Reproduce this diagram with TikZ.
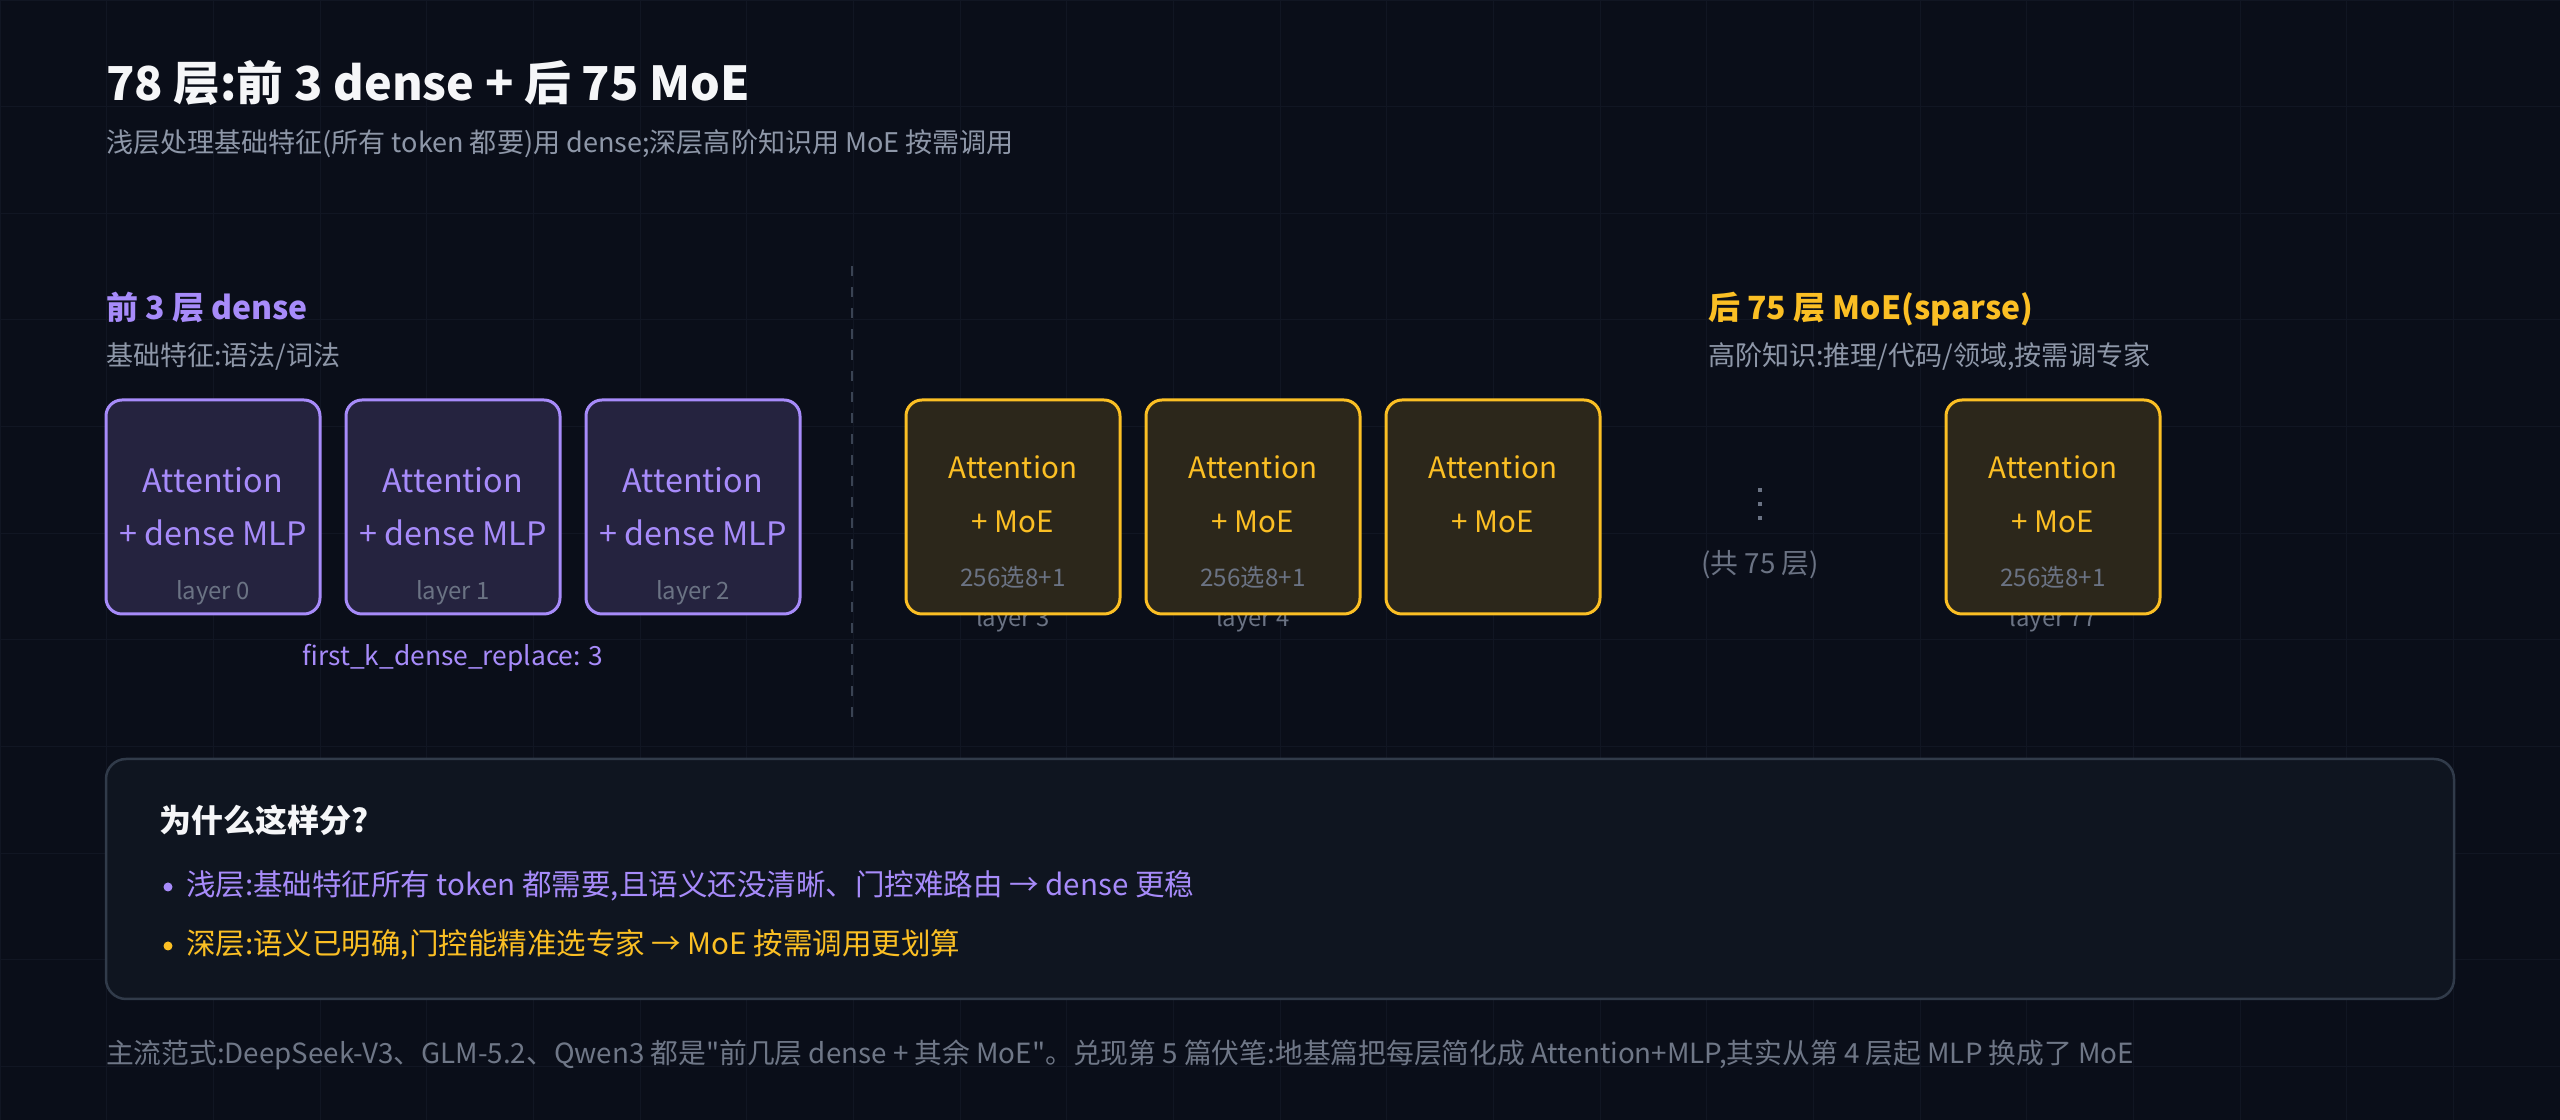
\documentclass[tikz,border=0pt]{standalone}
\usepackage{fontspec}
\setmainfont{Noto Sans CJK SC}[Ligatures=TeXOff]
\definecolor{bg}{HTML}{0A0E19}
\definecolor{gridc}{HTML}{111623}
\definecolor{titlec}{HTML}{F5F6F8}
\definecolor{subc}{HTML}{8E97A8}
\definecolor{footc}{HTML}{6F7787}
\definecolor{labc}{HTML}{6B7384}
\definecolor{purp}{HTML}{A78BFA}
\definecolor{amber}{HTML}{FBBF24}
\definecolor{panelfill}{HTML}{0F1520}
\definecolor{panelline}{HTML}{313B4A}
\definecolor{dashc}{HTML}{3A4353}
\tikzset{
  txt/.style={anchor=base west, inner sep=0pt, outer sep=0pt},
  ctxt/.style={anchor=base, inner sep=0pt, outer sep=0pt},
  fTitle/.style={font=\fontsize{13.3pt}{15pt}\selectfont\bfseries},
  fHead/.style={font=\fontsize{9.1pt}{11pt}\selectfont\bfseries},
  fSub/.style={font=\fontsize{7.7pt}{9pt}\selectfont},
  fFoot/.style={font=\fontsize{7.9pt}{9pt}\selectfont},
  fBox/.style={font=\fontsize{9.2pt}{11pt}\selectfont},
  fBoxY/.style={font=\fontsize{8.4pt}{10pt}\selectfont},
  fSmall/.style={font=\fontsize{6.8pt}{8pt}\selectfont},
  fNote/.style={font=\fontsize{6.9pt}{8pt}\selectfont},
  fBul/.style={font=\fontsize{8.4pt}{10pt}\selectfont},
  pbox/.style={draw=purp, line width=0.3mm, fill=purp!17!bg, rounded corners=1.6mm,
    minimum width=21.4mm, minimum height=21.4mm, inner sep=0pt},
  ybox/.style={draw=amber, line width=0.3mm, fill=amber!14!bg, rounded corners=1.6mm,
    minimum width=21.4mm, minimum height=21.4mm, inner sep=0pt},
}
\begin{document}
\begin{tikzpicture}[x=0.1mm, y=-0.1mm]
\useasboundingbox (0,0) rectangle (2560,1120);
\fill[bg] (0,0) rectangle (2560,1120);
\draw[gridc, line width=0.1mm, step=10.6667mm] (0,0) grid (2560,1120);

% title
\node[txt, fTitle, text=titlec] (title) at (106,101) {78 层:前 3 dense + 后 75 MoE};
\node[txt, fSub, text=subc] (subtitle) at (106,153) {浅层处理基础特征(所有 token 都要)用 dense;深层高阶知识用 MoE 按需调用};

% left header
\node[txt, fHead, text=purp] (h1) at (106,320) {前 3 层 dense};
\node[txt, fSub, text=subc] (s1) at (106,366) {基础特征:语法/词法};

% right header
\node[txt, fHead, text=amber] (h2) at (1708,320) {后 75 层 MoE(sparse)};
\node[txt, fSub, text=subc] (s2) at (1708,366) {高阶知识:推理/代码/领域,按需调专家};

% dense boxes
\foreach \i/\x in {0/213,1/453,2/693}{
  \node[pbox] (L\i) at (\x,507) {};
  \node[ctxt, fBox, text=purp] (La\i) at (\x,493) {Attention};
  \node[ctxt, fBox, text=purp] (Lb\i) at (\x,546) {+ dense MLP};
  \node[ctxt, fSmall, text=labc] (Lc\i) at (\x,600) {layer \i};
}
\node[ctxt, font=\fontsize{7.5pt}{9pt}\selectfont, text=purp] (fk) at (453,666) {first\_k\_dense\_replace: 3};

% divider
\coordinate (dtop) at (852,266);
\coordinate (dbot) at (852,718);
\draw[dashc, line width=0.2mm, dash pattern=on 1mm off 1.1mm] (dtop) -- (dbot);

% moe boxes
\foreach \n/\x in {3/1013,4/1253,77/2053}{
  \node[ctxt, fSmall, text=labc] (Ln\n) at (\x,627) {layer \n};
}
\foreach \n/\x in {3/1013,4/1253,5/1493,77/2053}{
  \node[ybox] (M\n) at (\x,507) {};
  \node[ctxt, fBoxY, text=amber] (Ma\n) at (\x,479) {Attention};
  \node[ctxt, fBoxY, text=amber] (Mb\n) at (\x,533) {+ MoE};
}
\foreach \n/\x in {3/1013,4/1253,77/2053}{
  \node[ctxt, fNote, text=labc] (Mc\n) at (\x,587) {256选8+1};
}

% ellipsis
\foreach \yy in {490,504,518}{
  \fill[labc] (1758,\yy-2) rectangle (1762,\yy+2);
}
\node[ctxt, font=\fontsize{7.9pt}{9pt}\selectfont, text=labc] (tot) at (1760,574) {(共 75 层)};

% bottom panel
\node[draw=panelline, line width=0.25mm, fill=panelfill, rounded corners=2mm,
  minimum width=234.8mm, minimum height=24mm, inner sep=0pt] (panel) at (1280,879) {};
\node[txt, fHead, text=titlec] (why) at (160,833) {为什么这样分?};
\fill[purp] (168,887) circle (4.5);
\node[txt, fBul, text=purp] (b1) at (186,896) {浅层:基础特征所有 token 都需要,且语义还没清晰、门控难路由 → dense 更稳};
\fill[amber] (168,946) circle (4.5);
\node[txt, fBul, text=amber] (b2) at (186,955) {深层:语义已明确,门控能精准选专家 → MoE 按需调用更划算};

% footer
\node[txt, fFoot, text=footc] (foot) at (106,1064) {主流范式:DeepSeek-V3、GLM-5.2、Qwen3 都是"前几层 dense + 其余 MoE"。兑现第 5 篇伏笔:地基篇把每层简化成 Attention+MLP,其实从第 4 层起 MLP 换成了 MoE};
\end{tikzpicture}
\end{document}
